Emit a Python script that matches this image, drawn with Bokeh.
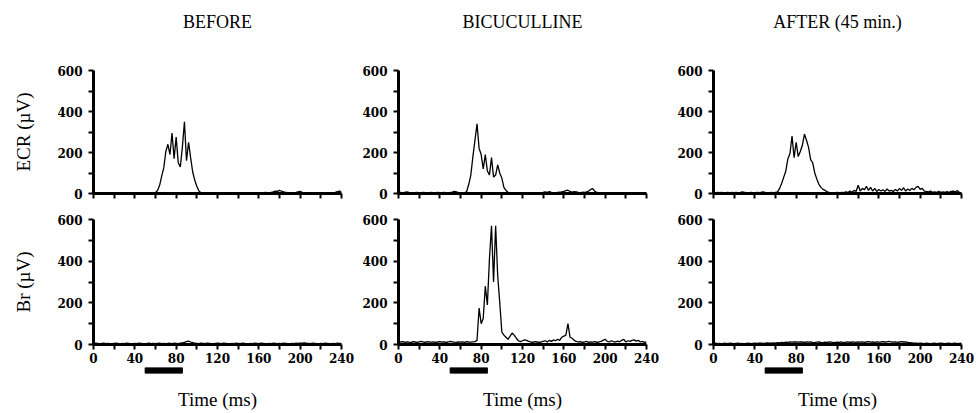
from bokeh.plotting import figure
from bokeh.models import Range1d, FixedTicker, LinearAxis, ColumnDataSource
from bokeh.layouts import row, column
from bokeh.embed import file_html
from bokeh.resources import INLINE

# ---------------- data ----------------
time_ms = list(range(0, 241, 2))  # sampling grid (ms)

ecr_before = [2,1,2,3,1,2,2,1,3,2, 1,2,2,3,1,2,1,2,3,2, 1,2,2,1,3,2,2,1,2,3,
              5,15,40,85,125,205,240,190,295,170, 275,150,130,225,350,160,250,175,105,65, 35,12,4,3,2,3,2,3,2,2,
              3,2,3,2,2,4,2,3,2,3, 2,3,4,3,2,3,4,3,2,3, 4,3,2,5,4,3,6,8,12,10,
              15,11,8,6,4,3,4,3,5,8, 10,6,3,2,3,4,3,2,3,4, 3,2,3,4,3,2,3,5,9,12,8]

ecr_bicuculline = [4,5,3,6,8,5,4,3,4,5, 3,4,5,4,3,4,5,3,4,5, 4,3,5,4,4,5,7,10,8,4,
                   3,2,3,10,45,90,180,260,340,220, 190,120,190,110,90,175,80,90,140,100, 75,30,15,6,4,3,2,3,2,3,
                   2,3,2,3,2,3,2,3,4,3, 5,8,6,9,5,4,3,5,6,8, 10,14,16,10,7,9,8,5,4,6,
                   5,8,12,20,24,10,5,3,2,3, 2,3,2,3,2,3,2,3,2,3, 2,3,2,3,2,3,2,3,2,3,2]

ecr_after = [5,3,6,4,5,3,4,6,3,5, 4,6,3,5,8,6,4,3,5,4, 3,5,4,6,8,5,4,3,5,4,
             6,8,25,50,80,110,170,195,280,175, 250,180,205,235,290,260,225,165,150,100, 70,45,30,20,15,8,5,3,3,4,
             5,3,6,4,8,5,12,6,15,10, 40,12,25,18,35,15,30,12,25,10, 20,12,18,10,22,12,15,10,20,12,
             25,15,28,12,22,15,25,18,30,35, 20,25,12,10,8,12,6,8,5,10, 6,8,5,9,6,10,12,8,15,5,4]

br_before = [4,6,5,3,5,6,4,5,3,4, 5,6,4,3,5,4,6,5,3,4, 5,4,6,5,4,3,5,6,4,5,
             4,5,6,4,5,3,6,5,4,6, 5,4,6,8,10,14,16,12,9,6, 5,4,6,5,4,6,5,4,3,5,
             6,5,4,6,5,4,3,5,4,6, 5,4,6,5,4,3,5,4,6,5, 4,6,5,4,3,5,4,6,5,4,
             5,4,6,5,4,3,5,4,6,5, 6,7,8,6,5,4,6,5,4,3, 5,4,6,5,4,3,5,4,6,5,4]

br_bicuculline = [15,12,14,10,13,11,9,14,12,10, 13,15,12,10,14,12,11,13,10,12, 14,11,13,10,12,15,13,11,10,12,
                  11,13,10,14,12,11,13,14,20,175, 100,125,280,190,410,570,300,570,330,200, 60,45,35,25,40,55,45,30,18,14,
                  18,22,20,15,12,10,14,12,10,12, 15,18,12,20,15,22,18,25,20,35, 40,45,100,35,30,20,15,12,14,10,
                  12,15,10,13,11,14,10,12,15,20, 25,15,12,18,14,12,16,13,20,25, 12,18,15,20,22,16,20,12,15,10,12]

br_after = [5,6,4,5,3,6,5,4,6,5, 4,5,6,4,5,3,5,6,4,5, 6,5,7,6,5,6,8,7,6,8,
            7,9,8,10,9,11,10,12,11,13, 12,11,13,12,10,12,11,13,10,9, 11,12,10,9,11,10,12,11,9,10,
            11,10,12,9,11,13,10,12,11,10, 12,11,13,10,12,14,11,12,10,13, 11,12,14,12,13,15,12,11,13,10,
            12,14,12,13,10,9,8,7,6,5, 6,5,4,6,5,4,5,6,4,5, 6,5,4,5,6,4,5,6,4,5,6]

conditions = ["BEFORE", "BICUCULLINE", "AFTER (45 min.)"]
row_labels = ["ECR (\u00b5V)", "Br (\u00b5V)"]
stimulus_ms = [50, 86]

x_tick_values = [0, 40, 80, 120, 160, 200, 240]
x_minor_values = [20, 60, 100, 140, 180, 220]
y_tick_values = [0, 200, 400, 600]
y_minor_values = [100, 300, 500]

ecr_series = [ecr_before, ecr_bicuculline, ecr_after]
br_series = [br_before, br_bicuculline, br_after]

# ---------------- layout ----------------
col_w = [354, 306, 317]
b_left = [93, 44, 53]
b_right = [13, 14, 16]

TICK_FONT = "DejaVu Serif"
LABEL_FONT = "Liberation Serif"


def style_axes(p, show_xlabels, ylabel):
    if show_xlabels:
        p.xaxis.ticker = FixedTicker(ticks=x_tick_values, minor_ticks=x_minor_values)
    else:
        p.xaxis.ticker = FixedTicker(ticks=[], minor_ticks=x_tick_values + x_minor_values)
    p.yaxis.ticker = FixedTicker(ticks=y_tick_values, minor_ticks=y_minor_values)
    for ax in (p.xaxis[0], p.yaxis[0]):
        ax.axis_line_width = 3
        ax.axis_line_color = "black"
        ax.major_tick_in = 0
        ax.major_tick_out = 5
        ax.minor_tick_in = 0
        ax.minor_tick_out = 5
        ax.major_tick_line_width = 2
        ax.minor_tick_line_width = 2
        ax.major_tick_line_color = "black"
        ax.minor_tick_line_color = "black"
        ax.major_label_text_font = TICK_FONT
        ax.major_label_text_font_style = "bold"
        ax.major_label_text_font_size = "12px"
        ax.major_label_text_color = "black"
    p.yaxis.major_label_standoff = 6
    p.xaxis.major_label_standoff = 3
    if ylabel:
        p.yaxis.axis_label = ylabel
        p.yaxis.axis_label_text_font = LABEL_FONT
        p.yaxis.axis_label_text_font_size = "19px"
        p.yaxis.axis_label_text_font_style = "normal"
        p.yaxis.axis_label_text_color = "black"
        p.yaxis.axis_label_standoff = 20
    p.grid.visible = False
    p.outline_line_color = None


def panel(values, c, top):
    h = 205 if top else 162
    p = figure(width=col_w[c], height=h, x_range=Range1d(0, 240), y_range=Range1d(0, 600),
               toolbar_location=None, output_backend="svg",
               min_border_left=b_left[c], min_border_right=b_right[c],
               min_border_top=70 if top else 14, min_border_bottom=12 if top else 23)
    src = ColumnDataSource(dict(t=time_ms, v=values))
    p.line("t", "v", source=src, line_color="black", line_width=1.3)
    style_axes(p, show_xlabels=not top, ylabel=(row_labels[0 if top else 1] if c == 0 else None))
    if top:
        tax = LinearAxis(ticker=FixedTicker(ticks=[]), axis_label=conditions[c],
                         axis_line_color=None, major_tick_line_color=None, minor_tick_line_color=None,
                         major_label_standoff=0,
                         axis_label_standoff=39, axis_label_text_font=LABEL_FONT,
                         axis_label_text_font_size="18px", axis_label_text_font_style="normal",
                         axis_label_text_color="black")
        p.add_layout(tax, "above")
    return p


def strip(c):
    p = figure(width=col_w[c], height=46, x_range=Range1d(0, 240), y_range=Range1d(0, 1),
               toolbar_location=None, output_backend="svg", x_axis_type=None, y_axis_type=None,
               min_border_left=b_left[c], min_border_right=b_right[c],
               min_border_top=0, min_border_bottom=40)
    p.quad(left=[stimulus_ms[0]], right=[stimulus_ms[1]], bottom=[0], top=[1],
           fill_color="black", line_color="black")
    ax = LinearAxis(ticker=FixedTicker(ticks=[]), axis_label="Time (ms)",
                    axis_line_color=None, major_tick_line_color=None, minor_tick_line_color=None,
                    major_label_standoff=0,
                    axis_label_standoff=15, axis_label_text_font=LABEL_FONT,
                    axis_label_text_font_size="19px", axis_label_text_font_style="normal",
                    axis_label_text_color="black")
    p.add_layout(ax, "below")
    p.grid.visible = False
    p.outline_line_color = None
    return p


cols = []
for c in range(3):
    cols.append(column(panel(ecr_series[c], c, True), panel(br_series[c], c, False), strip(c)))

layout = row(*cols)
open("out.html", "w").write(file_html(layout, INLINE))
